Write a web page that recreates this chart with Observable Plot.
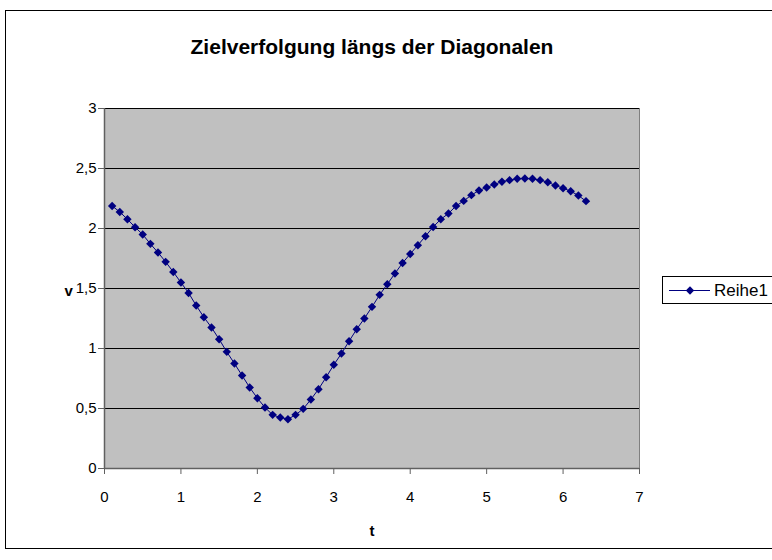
<!DOCTYPE html>
<html>
<head>
<meta charset="utf-8">
<script src="https://cdn.jsdelivr.net/npm/d3@7"></script>
<script src="https://cdn.jsdelivr.net/npm/@observablehq/plot@0.6"></script>
<style>
  html, body { margin: 0; padding: 0; background: #fff; }
  #wrap { position: relative; width: 772px; height: 560px; overflow: hidden; font-family: "Liberation Sans", Arial, sans-serif; }
  #border { position: absolute; left: 5px; top: 10px; width: 800px; height: 539px; border: 1px solid #000; box-sizing: border-box; }
  #title { position: absolute; left: 0; top: 35px; width: 744px; text-align: center; font-weight: bold; font-size: 21px; color: #000; }
  #legend { position: absolute; left: 662px; top: 276px; width: 130px; height: 28px; border: 1px solid #000; box-sizing: border-box; background: #fff; }
  #legend svg { position: absolute; left: 0; top: 0; }
  #legend span { position: absolute; left: 51px; top: 4px; font-size: 17px; color: #000; white-space: nowrap; }
  #chart { position: absolute; left: 0; top: 0; }
</style>
</head>
<body>
<div id="wrap">
  <div id="border"></div>
  <div id="chart"></div>
  <div id="title"></div>
  <div id="legend"></div>
</div>
<script>
const titleText = "Zielverfolgung längs der Diagonalen";
const seriesName = "Reihe1";
const xLabel = "t";
const yLabel = "v";
const xTicks = [0, 1, 2, 3, 4, 5, 6, 7];
const yTicks = [0, 0.5, 1, 1.5, 2, 2.5, 3];
const tValues = [
  0.1, 0.2, 0.3, 0.4, 0.5, 0.6, 0.7, 0.8, 0.9, 1.0,
  1.1, 1.2, 1.3, 1.4, 1.5, 1.6, 1.7, 1.8, 1.9, 2.0,
  2.1, 2.2, 2.3, 2.4, 2.5, 2.6, 2.7, 2.8, 2.9, 3.0,
  3.1, 3.2, 3.3, 3.4, 3.5, 3.6, 3.7, 3.8, 3.9, 4.0,
  4.1, 4.2, 4.3, 4.4, 4.5, 4.6, 4.7, 4.8, 4.9, 5.0,
  5.1, 5.2, 5.3, 5.4, 5.5, 5.6, 5.7, 5.8, 5.9, 6.0,
  6.1, 6.2, 6.3
];
const vValues = [
  2.188, 2.138, 2.077, 2.011, 1.950, 1.872, 1.800, 1.722, 1.638, 1.550,
  1.463, 1.358, 1.261, 1.175, 1.077, 0.972, 0.875, 0.775, 0.675, 0.586,
  0.508, 0.447, 0.425, 0.411, 0.447, 0.497, 0.575, 0.661, 0.761, 0.864,
  0.958, 1.061, 1.161, 1.250, 1.347, 1.447, 1.536, 1.625, 1.713, 1.788,
  1.861, 1.936, 2.013, 2.077, 2.125, 2.188, 2.230, 2.278, 2.317, 2.342,
  2.367, 2.390, 2.403, 2.414, 2.417, 2.414, 2.403, 2.386, 2.358, 2.336,
  2.311, 2.275, 2.228
];

const data = tValues.map((t, i) => ({t, v: vValues[i]}));
const comma = d => String(d).replace(".", ",");
const navy = "#000080";

document.getElementById("title").textContent = titleText;

const plot = Plot.plot({
  width: 772,
  height: 560,
  marginLeft: 104,
  marginRight: 133,
  marginTop: 108,
  marginBottom: 92,
  style: { fontFamily: "'Liberation Sans', Arial, sans-serif", background: "transparent", overflow: "visible" },
  x: { domain: [0, 7] },
  y: { domain: [0, 3] },
  marks: [
    Plot.frame({ fill: "#c0c0c0", stroke: "#808080" }),
    Plot.ruleY(yTicks.filter(d => d > 0), { stroke: "#000", strokeWidth: 1 }),
    Plot.ruleX([0], { stroke: "#606060", strokeWidth: 1.5 }),
    Plot.ruleY([0], { stroke: "#606060", strokeWidth: 1.5 }),
    Plot.axisY({ ticks: yTicks, tickFormat: comma, tickSize: 6, tickPadding: 2, fontSize: 15, stroke: "#606060", fill: "#000", label: null }),
    Plot.axisX({ ticks: xTicks, tickFormat: comma, tickSize: 6, tickPadding: 17, fontSize: 15, stroke: "#606060", fill: "#000", label: null }),
    Plot.text([xLabel], { frameAnchor: "bottom", dy: 67, text: d => d, fontSize: 15, fontWeight: "bold", fill: "#000" }),
    Plot.text([yLabel], { frameAnchor: "left", dx: -40, dy: 3, text: d => d, fontSize: 15, fontWeight: "bold", fill: "#000" }),
    Plot.line(data, { x: "t", y: "v", stroke: navy, strokeWidth: 1 }),
    Plot.dot(data, { x: "t", y: "v", symbol: "diamond2", r: 3.8, fill: navy, stroke: "none" })
  ]
});
document.getElementById("chart").appendChild(plot);

// legend
const legend = document.getElementById("legend");
const ls = d3.create("svg").attr("width", 50).attr("height", 26);
ls.append("line").attr("x1", 6).attr("x2", 47).attr("y1", 13.5).attr("y2", 13.5).attr("stroke", navy).attr("stroke-width", 1);
ls.append("path").attr("d", "M27,9.3L31.2,13.5L27,17.7L22.8,13.5Z").attr("fill", navy);
legend.appendChild(ls.node());
const sp = document.createElement("span");
sp.textContent = seriesName;
legend.appendChild(sp);
</script>
</body>
</html>
